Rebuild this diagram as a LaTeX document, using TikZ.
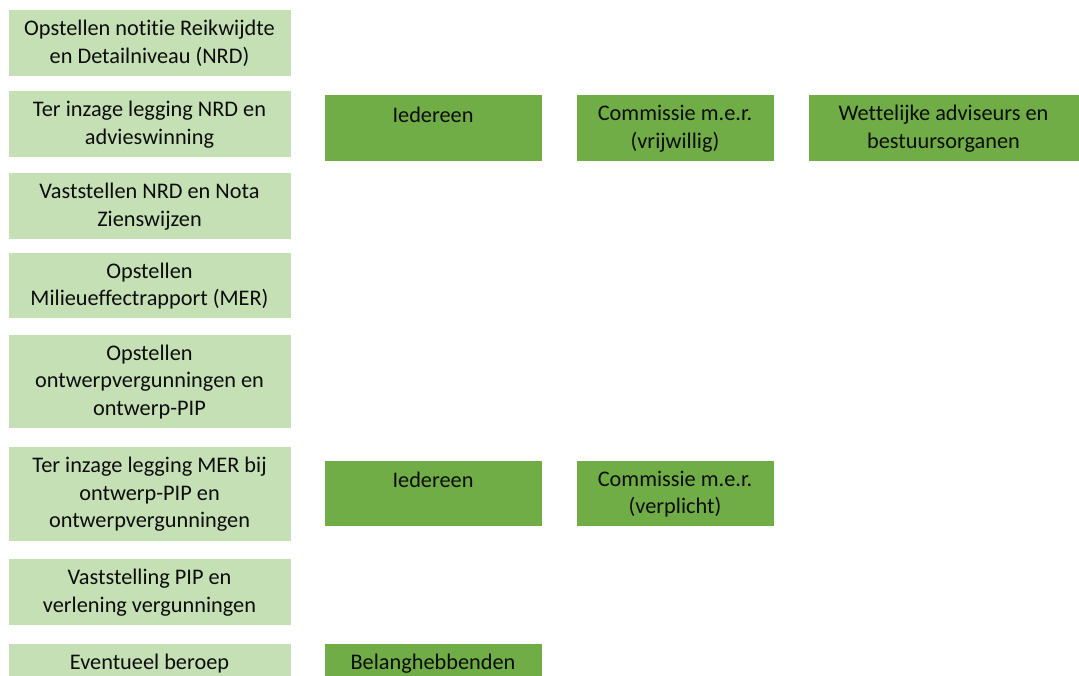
\documentclass[tikz,border=0pt]{standalone}
\usepackage{fontspec}
\setmainfont{Carlito}[Ligatures=NoCommon]
\definecolor{lgreen}{HTML}{C5E0B4}
\definecolor{dgreen}{HTML}{70AD47}
\definecolor{txt}{HTML}{0D0D0D}
\tikzset{
  boxbase/.style={inner sep=0pt, draw=white, line width=0.6pt},
  lbox/.style={boxbase, fill=lgreen, minimum width=283},
  rbox/.style={boxbase, fill=dgreen},
  lbl/.style={inner sep=0pt, align=center, text=txt,
    font=\fontsize{22.3}{27.5}\selectfont, yshift=-1},
}
\begin{document}
\begin{tikzpicture}[x=1pt,y=-1pt]
\useasboundingbox (0,0) rectangle (1079,676);
\clip (0,0) rectangle (1079,676);
\fill[white] (0,0) rectangle (1079,676);
% left column
\node[lbox, minimum height=67] (s1) at (149.5,42.5) {};
\node[lbl] (t1) at (s1) {Opstellen notitie Reikwijdte\\en Detailniveau (NRD)};
\node[lbox, minimum height=67] (s2) at (149.5,123.5) {};
\node[lbl] (t2) at (s2) {Ter inzage legging NRD en\\advieswinning};
\node[lbox, minimum height=67] (s3) at (149.5,205.5) {};
\node[lbl] (t3) at (s3) {Vaststellen NRD en Nota\\Zienswijzen};
\node[lbox, minimum height=66] (s4) at (149.5,285) {};
\node[lbl] (t4) at (s4) {Opstellen\\Milieueffectrapport (MER)};
\node[lbox, minimum height=94] (s5) at (149.5,381) {};
\node[lbl] (t5) at (s5) {Opstellen\\ontwerpvergunningen en\\ontwerp-PIP};
\node[lbox, minimum height=95] (s6) at (149.5,493.5) {};
\node[lbl] (t6) at (s6) {Ter inzage legging MER bij\\ontwerp-PIP en\\ontwerpvergunningen};
\node[lbox, minimum height=67] (s7) at (149.5,591.5) {};
\node[lbl] (t7) at (s7) {Vaststelling PIP en\\verlening vergunningen};
\node[lbox, minimum height=67] (s8) at (149.5,676.5) {};
\node[lbl] (t8) at ([yshift=2]s8) {Eventueel beroep\\\mbox{}};
% right boxes
\node[rbox, minimum width=218, minimum height=67] (a1) at (433,127.5) {};
\node[lbl] (u1) at (a1) {Iedereen\\\mbox{}};
\node[rbox, minimum width=198, minimum height=67] (a2) at (675,127.5) {};
\node[lbl] (u2) at (a2) {Commissie m.e.r.\\(vrijwillig)};
\node[rbox, minimum width=271, minimum height=67] (a3) at (943.5,127.5) {};
\node[lbl] (u3) at (a3) {Wettelijke adviseurs en\\bestuursorganen};
\node[rbox, minimum width=218, minimum height=66] (b1) at (433,493) {};
\node[lbl] (v1) at (b1) {Iedereen\\\mbox{}};
\node[rbox, minimum width=198, minimum height=66] (b2) at (675,493) {};
\node[lbl] (v2) at (b2) {Commissie m.e.r.\\(verplicht)};
\node[rbox, minimum width=218, minimum height=67] (c1) at (433,676.5) {};
\node[lbl] (w1) at ([yshift=2]c1) {Belanghebbenden\\\mbox{}};
\end{tikzpicture}
\end{document}
